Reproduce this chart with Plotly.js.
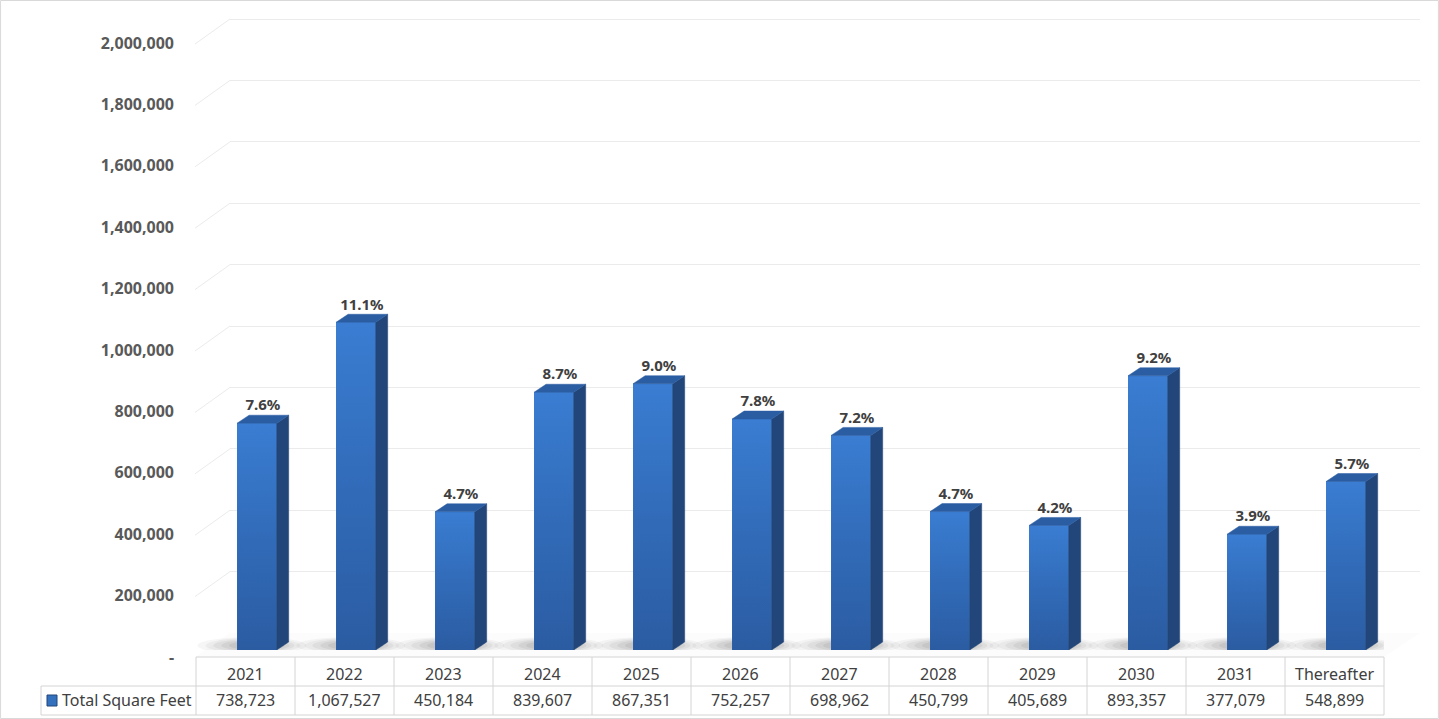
<!DOCTYPE html>
<html>
<head>
<meta charset="utf-8">
<script src="https://cdn.plot.ly/plotly-3.0.1.min.js"></script>
<style>
  html, body { margin: 0; padding: 0; background: #ffffff; }
  #chart { width: 1439px; height: 719px; }
</style>
</head>
<body>
<div id="chart"></div>
<script>
// ---- data ----
const categories = ["2021", "2022", "2023", "2024", "2025", "2026", "2027", "2028", "2029", "2030", "2031", "Thereafter"];
const totalSquareFeet = [738723, 1067527, 450184, 839607, 867351, 752257, 698962, 450799, 405689, 893357, 377079, 548899];
const percentLabels = ["7.6%", "11.1%", "4.7%", "8.7%", "9.0%", "7.8%", "7.2%", "4.7%", "4.2%", "9.2%", "3.9%", "5.7%"];
const yTickValues = [0, 200000, 400000, 600000, 800000, 1000000, 1200000, 1400000, 1600000, 1800000, 2000000];
const yTickLabels = ["-", "200,000", "400,000", "600,000", "800,000", "1,000,000", "1,200,000", "1,400,000", "1,600,000", "1,800,000", "2,000,000"];
const seriesName = "Total Square Feet";

// ---- geometry (pixels) ----
const W = 1439, H = 719;
const PXU = 0.000307;          // pixels per unit on the value axis
const RMAX = 2050000;
const LEN = RMAX * PXU;
function dom(basePx) { const b = (H - basePx) / H; return [b, b + LEN / H]; }
const tableLeft = 196, tableRight = 1384, firstColLeft = 41;
const colW = (tableRight - tableLeft) / categories.length;
const depthX = 12 / colW;        // depth in x units
const depthY = 8 / PXU;          // depth in value units
const faceOff = -0.085, faceW = 0.4;

const idx = categories.map((_, i) => i);

// side and top faces built from the values
const sideX = [], sideY = [], topX = [], topY = [];
idx.forEach(i => {
  const v = totalSquareFeet[i];
  const xr = i + faceOff + faceW, xl = i + faceOff;
  sideX.push(xr, xr, xr + depthX, xr + depthX, xr, null);
  sideY.push(0, v, v + depthY, depthY, 0, null);
  topX.push(xl, xr, xr + depthX, xl + depthX, xl, null);
  topY.push(v, v, v + depthY, v + depthY, v, null);
});

const traces = [
  // wall gridline subplot (drawn first, so behind the bars)
  { type: 'scatter', x: [null], y: [null], xaxis: 'x', yaxis: 'y', showlegend: false, hoverinfo: 'skip' },
  { type: 'scatter', x: [null], y: [null], xaxis: 'x', yaxis: 'y3', showlegend: false, hoverinfo: 'skip' },
  // bars
  { type: 'bar', x: idx, y: totalSquareFeet, width: faceW, offset: faceOff,
    marker: { color: '#3370bd', line: { width: 0 } }, xaxis: 'x2', yaxis: 'y2',
    hoverinfo: 'skip', name: seriesName, showlegend: false }
];
// front-face shading (vertical gradient per bar, same values)
idx.forEach(i => {
  const v = totalSquareFeet[i];
  const xl = i + faceOff, xr = i + faceOff + faceW;
  traces.push({ type: 'scatter', mode: 'lines', x: [xl, xr, xr, xl, xl], y: [0, 0, v, v, 0],
    fill: 'toself', line: { width: 0 },
    fillgradient: { type: 'vertical', start: 0, stop: v,
      colorscale: [[0, '#2b5ca2'], [0.55, '#326dbb'], [1, '#3a7dd2']] },
    xaxis: 'x2', yaxis: 'y2', hoverinfo: 'skip', showlegend: false });
});
traces.push(
  { type: 'scatter', mode: 'lines', x: sideX, y: sideY, fill: 'toself',
    fillcolor: '#224679', line: { width: 0.5, color: '#224679' }, xaxis: 'x2', yaxis: 'y2',
    hoverinfo: 'skip', showlegend: false },
  { type: 'scatter', mode: 'lines', x: topX, y: topY, fill: 'toself',
    fillcolor: '#2b5da3', line: { width: 0.5, color: '#2b5da3' }, xaxis: 'x2', yaxis: 'y2',
    hoverinfo: 'skip', showlegend: false },
  { type: 'scatter', mode: 'text', x: idx.map(i => i + faceOff + faceW / 2 + depthX / 2),
    y: totalSquareFeet.map(v => v + depthY + 1 / PXU), text: percentLabels, textposition: 'top center',
    textfont: { family: 'Noto Sans, sans-serif', size: 15, color: '#404040', weight: 'bold' },
    xaxis: 'x2', yaxis: 'y2', hoverinfo: 'skip', showlegend: false, cliponaxis: false }
);

const shapes = [];
const px = x => x / W, py = y => (H - y) / H;
// outer frame
shapes.push({ type: 'rect', xref: 'paper', yref: 'paper', x0: 0.0004, x1: 0.9996, y0: 0.0007, y1: 0.9993,
  line: { color: '#d9d9d9', width: 1 }, layer: 'below' });
// floor
shapes.push({ type: 'path', xref: 'paper', yref: 'paper', layer: 'below',
  path: `M ${px(195)} ${py(657)} L ${px(tableRight)} ${py(657)} L ${px(1420)} ${py(633)} L ${px(230)} ${py(633)} Z`,
  fillcolor: '#fcfcfc', line: { width: 0 } });
// side wall connectors
const offU = 25 / PXU;
yTickValues.forEach(t => {
  shapes.push({ type: 'line', xref: 'paper', yref: 'y', x0: px(195), x1: px(230),
    y0: t - offU, y1: t, line: { color: '#ebebeb', width: 1 }, layer: 'below' });
});
// soft shadows under bars (layered thin ellipses)
const shadowLayers = [
  [-0.60, 0.50, -4, 13, 0.05], [-0.52, 0.44, -3, 12, 0.06], [-0.44, 0.38, -2, 11, 0.07],
  [-0.36, 0.33, -1, 10, 0.08], [-0.28, 0.28, 0, 9, 0.09]
];
idx.forEach(i => {
  const c = i + faceOff + faceW / 2;
  shadowLayers.forEach(s => {
    shapes.push({ type: 'circle', xref: 'x2', yref: 'y2', x0: c + s[0], x1: c + s[1],
      y0: s[2] / PXU, y1: s[3] / PXU,
      fillcolor: `rgba(80,80,80,${s[4]})`, line: { width: 0 }, layer: 'below' });
  });
});
// data table grid
const tTop = 657, tMid = 686, tBot = 715;
const tline = { color: '#d4d4d4', width: 1 };
shapes.push({ type: 'line', xref: 'paper', yref: 'paper', x0: px(tableLeft), x1: px(tableRight), y0: py(tTop), y1: py(tTop), line: tline });
shapes.push({ type: 'line', xref: 'paper', yref: 'paper', x0: px(firstColLeft), x1: px(tableRight), y0: py(tMid), y1: py(tMid), line: tline });
shapes.push({ type: 'line', xref: 'paper', yref: 'paper', x0: px(firstColLeft), x1: px(tableRight), y0: py(tBot), y1: py(tBot), line: tline });
shapes.push({ type: 'line', xref: 'paper', yref: 'paper', x0: px(firstColLeft), x1: px(firstColLeft), y0: py(tMid), y1: py(tBot), line: tline });
for (let k = 0; k <= categories.length; k++) {
  const xx = tableLeft + k * colW;
  shapes.push({ type: 'line', xref: 'paper', yref: 'paper', x0: px(xx), x1: px(xx), y0: py(tTop), y1: py(tBot), line: tline });
}
// legend key
shapes.push({ type: 'rect', xref: 'paper', yref: 'paper', x0: px(47), x1: px(57), y0: py(706), y1: py(695),
  fillcolor: '#3370bd', line: { color: '#224679', width: 1 } });

const annotations = [];
const tfont = { family: 'Noto Sans, sans-serif', size: 16, color: '#404040' };
categories.forEach((c, i) => {
  const cx = tableLeft + (i + 0.5) * colW;
  annotations.push({ xref: 'paper', yref: 'paper', x: px(cx), y: py(674), text: c,
    showarrow: false, xanchor: 'center', yanchor: 'middle', font: tfont });
  annotations.push({ xref: 'paper', yref: 'paper', x: px(cx), y: py(700),
    text: totalSquareFeet[i].toLocaleString('en-US'),
    showarrow: false, xanchor: 'center', yanchor: 'middle', font: tfont });
});
annotations.push({ xref: 'paper', yref: 'paper', x: px(60), y: py(700), text: seriesName,
  showarrow: false, xanchor: 'left', yanchor: 'middle', font: tfont });

const layout = {
  width: W, height: H,
  margin: { l: 0, r: 0, t: 0, b: 0, pad: 0 },
  paper_bgcolor: '#ffffff', plot_bgcolor: 'rgba(0,0,0,0)',
  showlegend: false,
  // back wall gridlines
  xaxis: { domain: [px(230), px(1420)], range: [0, 1], visible: false, fixedrange: true, anchor: 'y' },
  yaxis: { domain: dom(633), range: [0, RMAX], anchor: 'x', showgrid: true, gridcolor: '#ebebeb', gridwidth: 1,
    tickvals: yTickValues, showticklabels: false, zeroline: false, showline: false, ticks: '', fixedrange: true },
  // bars
  xaxis2: { domain: [px(tableLeft), px(tableRight)], range: [-0.5, categories.length - 0.5],
    visible: false, fixedrange: true, anchor: 'y2' },
  yaxis2: { domain: dom(650), range: [0, RMAX], visible: false, fixedrange: true, anchor: 'x2' },
  // value labels (front edge)
  yaxis3: { domain: dom(657), range: [0, RMAX], anchor: 'free', position: px(174),
    side: 'left', showgrid: false, zeroline: false, showline: false, ticks: '',
    tickvals: yTickValues, ticktext: yTickLabels,
    tickfont: { family: 'Noto Sans, sans-serif', size: 16, color: '#595959', weight: 'bold' }, fixedrange: true },
  shapes: shapes,
  annotations: annotations
};

Plotly.newPlot('chart', traces, layout, { displayModeBar: false, staticPlot: true });
</script>
</body>
</html>
